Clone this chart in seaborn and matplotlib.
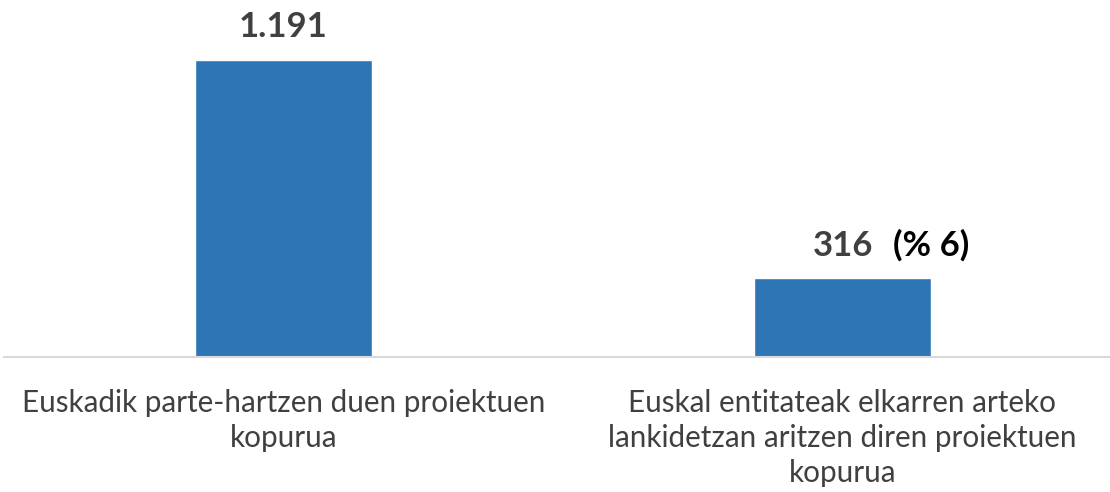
import matplotlib.pyplot as plt
import pandas as pd
import seaborn as sns

sns.set_style('white')
plt.rcParams['font.family'] = ['Lato', 'DejaVu Sans']

# data
categories = ['Euskadik parte-hartzen duen proiektuen\nkopurua',
              'Euskal entitateak elkarren arteko\nlankidetzan aritzen diren proiektuen\nkopurua']
values = [1191, 316]
value_labels = ['1.191', '316']
share_labels = ['', '(% 6)']

df = pd.DataFrame({'cat': categories, 'val': values})

fig = plt.figure(figsize=(11.1, 4.92), dpi=100)
ax = fig.add_axes([4 / 1110, 1 - 357 / 492, 1118 / 1110, 357 / 492])

sns.barplot(data=df, x='cat', y='val', color='#2E75B6', width=0.317,
            saturation=1, ax=ax)

ax.set_xlim(-0.5, 1.5)
ax.set_ylim(0, 1191 * 357 / 297)

# value labels above bars
for i, v in enumerate(values):
    ax.annotate(value_labels[i], xy=(i, v), xytext=(0, 12), textcoords='offset points',
                ha='center', va='bottom', fontsize=25, fontweight='bold', color='#404040')
    if share_labels[i]:
        ax.annotate(share_labels[i], xy=(i, v), xytext=(64, 12), textcoords='offset points',
                    ha='center', va='bottom', fontsize=25, fontweight='bold', color='black')

ax.set_xlabel('')
ax.set_ylabel('')
ax.set_yticks([])
ax.tick_params(axis='x', length=0, pad=23, labelsize=21.3, labelcolor='#404040')
ax.set_xticks([0, 1])
ax.set_xticklabels(categories, linespacing=1.3, va='top')

for s in ['top', 'left', 'right']:
    ax.spines[s].set_visible(False)
ax.spines['bottom'].set_color('#D9D9D9')
ax.spines['bottom'].set_linewidth(1.5)

fig.savefig('out.png', dpi=100)
